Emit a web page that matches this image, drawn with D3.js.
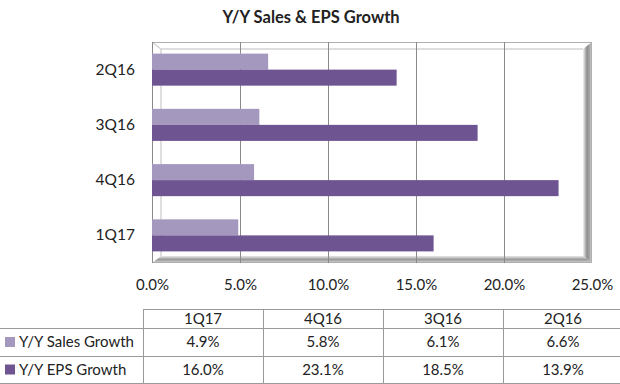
<!DOCTYPE html>
<html>
<head>
<meta charset="utf-8">
<script src="https://cdn.jsdelivr.net/npm/d3@7"></script>
<style>
  body { margin: 0; background: #fff; }
  text { font-family: Lato, "Liberation Sans", Arial, sans-serif; fill: #222; }
</style>
</head>
<body>
<svg id="chart"></svg>
<script>
// quarters as shown in the table (left to right)
var quarters = ["1Q17", "4Q16", "3Q16", "2Q16"]
var seriesNames = ["Y/Y Sales Growth", "Y/Y EPS Growth"]
var salesGrowth = [4.9, 5.8, 6.1, 6.6]
var epsGrowth = [16.0, 23.1, 18.5, 13.9]
var xTicks = [0, 5, 10, 15, 20, 25]
var colors = ["#a598bf", "#6e5592"]

var dimensions = {
    width: 620,
    height: 384,
    plot: { left: 152, right: 592, top: 42, bottom: 263 },
    depth: { x: 9, y: 7 }
}

var svg = d3.select("#chart")
    .attr("width", dimensions.width)
    .attr("height", dimensions.height)

var defs = svg.append("defs")
var gradRight = defs.append("linearGradient").attr("id", "wallRight")
    .attr("x1", 0).attr("x2", 1).attr("y1", 0).attr("y2", 0)
gradRight.append("stop").attr("offset", "0%").attr("stop-color", "#f2f2f2")
gradRight.append("stop").attr("offset", "45%").attr("stop-color", "#8c8c8c")
gradRight.append("stop").attr("offset", "75%").attr("stop-color", "#a8a8a8")
gradRight.append("stop").attr("offset", "100%").attr("stop-color", "#e0e0e0")
var gradFloor = defs.append("linearGradient").attr("id", "floor")
    .attr("x1", 0).attr("x2", 0).attr("y1", 0).attr("y2", 1)
gradFloor.append("stop").attr("offset", "0%").attr("stop-color", "#e8e8e8")
gradFloor.append("stop").attr("offset", "50%").attr("stop-color", "#9a9a9a")
gradFloor.append("stop").attr("offset", "100%").attr("stop-color", "#d8d8d8")

// title
svg.append("text")
    .attr("x", 311)
    .attr("y", 23)
    .attr("text-anchor", "middle")
    .style("font-size", "16.5px")
    .style("font-weight", "bold")
    .text("Y/Y Sales & EPS Growth")

var xScale = d3.scaleLinear()
    .domain([0, 25])
    .range([dimensions.plot.left, dimensions.plot.right])

// chart lists categories bottom-up in table order
var chartOrder = quarters.slice().reverse()
var yScale = d3.scaleBand()
    .domain(chartOrder)
    .range([dimensions.plot.top, dimensions.plot.bottom])
    .paddingInner(0.42)
    .paddingOuter(0.21)

var p = dimensions.plot
var dx = dimensions.depth.x
var dy = dimensions.depth.y

// 3D box: back wall, right wall, floor
var box = svg.append("g")
box.append("rect")
    .attr("x", p.left).attr("y", p.top)
    .attr("width", p.right - p.left).attr("height", p.bottom - p.top)
    .attr("fill", "#fff")
box.append("path")
    .attr("d", "M" + (p.right - dx) + "," + (p.top + dy) + "L" + p.right + "," + p.top +
        "L" + p.right + "," + p.bottom + "L" + (p.right - dx) + "," + (p.bottom - dy) + "Z")
    .attr("fill", "url(#wallRight)")
box.append("path")
    .attr("d", "M" + p.left + "," + p.bottom + "L" + (p.left + dx) + "," + (p.bottom - dy) +
        "L" + (p.right - dx) + "," + (p.bottom - dy) + "L" + p.right + "," + p.bottom + "Z")
    .attr("fill", "url(#floor)")
box.append("path")
    .attr("d", "M" + p.left + "," + p.top + "L" + (p.left + dx) + "," + (p.top + dy) +
        "L" + (p.right - dx) + "," + (p.top + dy) +
        "M" + (p.left + dx) + "," + (p.top + dy) + "L" + (p.left + dx) + "," + (p.bottom - dy))
    .attr("fill", "none")
    .attr("stroke", "#d4d4d4")
    .attr("stroke-width", 1.5)
box.append("rect")
    .attr("x", p.left + 0.5).attr("y", p.top + 0.5)
    .attr("width", p.right - p.left - 1).attr("height", p.bottom - p.top - 1)
    .attr("fill", "none")
    .attr("stroke", "#b0b0b0")

// gridlines
svg.append("g")
    .selectAll("line")
    .data(xTicks.slice(1, -1))
    .enter()
    .append("line")
    .attr("x1", d => Math.round(xScale(d)) + 0.5)
    .attr("x2", d => Math.round(xScale(d)) + 0.5)
    .attr("y1", p.top)
    .attr("y2", p.bottom)
    .attr("stroke", "#8a8a8a")

svg.append("line")
    .attr("x1", p.left + 0.5).attr("x2", p.left + 0.5)
    .attr("y1", p.top).attr("y2", p.bottom)
    .attr("stroke", "#8a8a8a")

// bars
var barH = yScale.bandwidth() / 2
var bars = svg.append("g")
bars.selectAll(".sales")
    .data(quarters)
    .enter()
    .append("rect")
    .attr("class", "sales")
    .attr("x", xScale(0))
    .attr("y", d => yScale(d))
    .attr("width", (d, i) => xScale(salesGrowth[i]) - xScale(0))
    .attr("height", barH)
    .attr("fill", colors[0])
bars.selectAll(".eps")
    .data(quarters)
    .enter()
    .append("rect")
    .attr("class", "eps")
    .attr("x", xScale(0))
    .attr("y", d => yScale(d) + barH)
    .attr("width", (d, i) => xScale(epsGrowth[i]) - xScale(0))
    .attr("height", barH)
    .attr("fill", colors[1])

// category labels
var yAxis = d3.axisLeft(yScale).tickSize(0).tickPadding(17)
svg.append("g")
    .attr("class", "y-axis")
    .attr("transform", "translate(" + p.left + ",0)")
    .call(yAxis)
    .call(g => g.select(".domain").remove())
    .selectAll("text")
    .style("font-size", "15.5px")
    .style("font-family", "Lato, 'Liberation Sans', Arial, sans-serif")
    .attr("fill", "#222")

// value axis labels
var xAxis = d3.axisBottom(xScale)
    .tickValues(xTicks)
    .tickSize(0)
    .tickPadding(0)
    .tickFormat(d => d.toFixed(1) + "%")
svg.append("g")
    .attr("class", "x-axis")
    .attr("transform", "translate(0," + (p.bottom + 16) + ")")
    .call(xAxis)
    .call(g => g.select(".domain").remove())
    .selectAll("text")
    .style("font-size", "15px")
    .style("font-family", "Lato, 'Liberation Sans', Arial, sans-serif")
    .attr("fill", "#222")

// data table
var table = {
    left: 143, right: 620,
    rows: [309, 328, 356, 383]
}
var colScale = d3.scaleBand()
    .domain(quarters)
    .range([table.left, table.left + 120 * quarters.length])

var tg = svg.append("g")
var lineColor = "#9a9a9a"
tg.append("line")
    .attr("x1", table.left).attr("x2", table.right)
    .attr("y1", table.rows[0] + 0.5).attr("y2", table.rows[0] + 0.5)
    .attr("stroke", lineColor)
tg.selectAll(".hline")
    .data(table.rows.slice(1))
    .enter()
    .append("line")
    .attr("x1", 0).attr("x2", table.right)
    .attr("y1", d => d + 0.5).attr("y2", d => d + 0.5)
    .attr("stroke", lineColor)
tg.selectAll(".vline")
    .data(quarters.concat(["end"]))
    .enter()
    .append("line")
    .attr("x1", (d, i) => table.left + 120 * i + 0.5)
    .attr("x2", (d, i) => table.left + 120 * i + 0.5)
    .attr("y1", table.rows[0]).attr("y2", table.rows[3])
    .attr("stroke", lineColor)

tg.selectAll(".head")
    .data(quarters)
    .enter()
    .append("text")
    .attr("x", d => colScale(d) + colScale.bandwidth() / 2)
    .attr("y", (table.rows[0] + table.rows[1]) / 2 + 5)
    .attr("text-anchor", "middle")
    .style("font-size", "15px")
    .text(d => d)

var rowValues = [salesGrowth, epsGrowth]
rowValues.forEach(function (vals, r) {
    var cy = (table.rows[r + 1] + table.rows[r + 2]) / 2 + 5
    tg.append("rect")
        .attr("x", 5).attr("y", cy - 10)
        .attr("width", 10).attr("height", 10)
        .attr("fill", colors[r])
    tg.append("text")
        .attr("x", 19).attr("y", cy)
        .style("font-size", "15px")
        .text(seriesNames[r])
    tg.selectAll(".v" + r)
        .data(vals)
        .enter()
        .append("text")
        .attr("x", (d, i) => colScale(quarters[i]) + colScale.bandwidth() / 2)
        .attr("y", cy)
        .attr("text-anchor", "middle")
        .style("font-size", "15px")
        .text(d => d.toFixed(1) + "%")
})
</script>
</body>
</html>
